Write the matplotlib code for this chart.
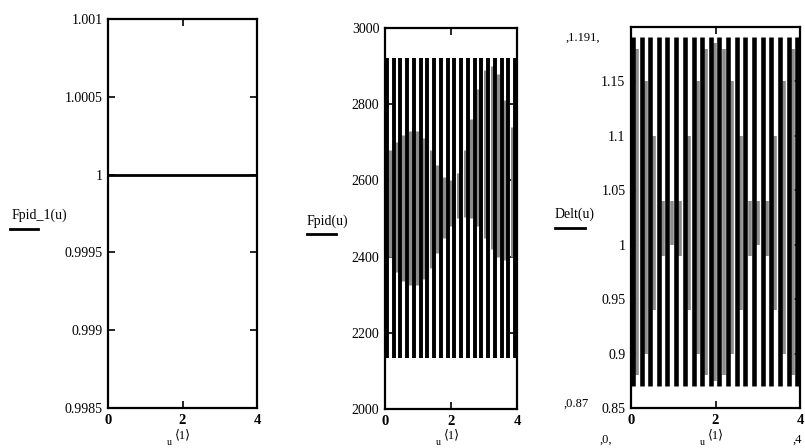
import matplotlib
matplotlib.use("Agg")
import matplotlib.pyplot as plt

plt.rcParams['font.family'] = ['Liberation Serif', 'DejaVu Serif']

W, H = 805, 448

# ---------------- data ----------------
x_ticks = [0, 2, 4]

# panel 1: constant Fpid_1(u)
p1_u = [0.0, 4.0]
p1_val = [1.0, 1.0]
p1_yticks = [0.9985, 0.999, 0.9995, 1.0, 1.0005, 1.001]
p1_ylabels = ["0.9985", "0.999", "0.9995", "1", "1.0005", "1.001"]

# panel 2: Fpid(u) oscillation (one dark stroke per cycle)
p2_t = [0.05, 0.26, 0.46, 0.67, 0.87, 1.08, 1.28, 1.49, 1.69, 1.90,
        2.10, 2.31, 2.51, 2.72, 2.92, 3.13, 3.33, 3.54, 3.74, 3.95]
p2_max = [2922] * 20
p2_min = [2135] * 20
# lighter inner strokes between the dark ones
p2_tg = [0.15, 0.36, 0.56, 0.77, 0.97, 1.18, 1.38, 1.59, 1.79, 2.00,
         2.20, 2.41, 2.61, 2.82, 3.02, 3.23, 3.43, 3.64, 3.84]
p2_ghi = [2680, 2700, 2720, 2730, 2730, 2710, 2680, 2640, 2610, 2600,
          2620, 2680, 2760, 2840, 2890, 2900, 2880, 2810, 2740]
p2_glo = [2400, 2360, 2335, 2325, 2325, 2340, 2370, 2410, 2450, 2480,
          2500, 2505, 2500, 2480, 2450, 2420, 2400, 2390, 2400]
p2_yticks = [2000, 2200, 2400, 2600, 2800, 3000]

# panel 3: Delt(u) oscillation
p3_t = [0.04, 0.25, 0.45, 0.66, 0.86, 1.07, 1.27, 1.48, 1.68, 1.89,
        2.09, 2.30, 2.50, 2.71, 2.91, 3.12, 3.32, 3.53, 3.73, 3.94]
p3_max = [1.191] * 20
p3_min = [0.87] * 20
p3_tg = [0.14, 0.35, 0.55, 0.76, 0.96, 1.17, 1.37, 1.58, 1.78, 1.99,
         2.19, 2.40, 2.60, 2.81, 3.01, 3.22, 3.42, 3.63, 3.83]
p3_ghi = [1.18, 1.15, 1.10, 1.04, 1.00, 1.04, 1.10, 1.15, 1.18, 1.185,
          1.18, 1.15, 1.10, 1.04, 1.00, 1.04, 1.10, 1.15, 1.18]
p3_glo = [0.88, 0.90, 0.94, 0.99, 1.04, 0.99, 0.94, 0.90, 0.88, 0.875,
          0.88, 0.90, 0.94, 0.99, 1.04, 0.99, 0.94, 0.90, 0.88]
p3_yticks = [0.85, 0.9, 0.95, 1.0, 1.05, 1.1, 1.15]
p3_ylabels = ["0.85", "0.9", "0.95", "1", "1.05", "1.1", "1.15"]

# ---------------- figure ----------------
fig = plt.figure(figsize=(W / 100, H / 100), dpi=100)
fig.patch.set_facecolor("white")


def px_axes(x0, y0, x1, y1):
    return fig.add_axes([x0 / W, 1 - y1 / H, (x1 - x0) / W, (y1 - y0) / H])


def ftext(x, y, s, **kw):
    kw.setdefault("fontsize", 10)
    fig.text(x / W, 1 - y / H, s, **kw)


def style(ax, ylim, yticks, ylabels=None):
    ax.set_xlim(0, 4)
    ax.set_ylim(*ylim)
    ax.set_xticks(x_ticks)
    ax.set_xticklabels([str(v) for v in x_ticks], fontsize=10.5, fontweight="bold")
    ax.set_yticks(yticks)
    if ylabels is None:
        ylabels = [str(v) for v in yticks]
    ax.set_yticklabels(ylabels, fontsize=10)
    ax.tick_params(direction="in", length=5, width=1.2, top=True, right=True,
                   pad=4, colors="black")
    ax.tick_params(axis="x", pad=4)
    for s in ax.spines.values():
        s.set_linewidth(1.6)
        s.set_color("black")
        s.set_zorder(5)


ax1 = px_axes(108, 19, 257, 408)
ax1.plot(p1_u, p1_val, color="black", lw=2.0, solid_capstyle="butt")
style(ax1, (0.9985, 1.001), p1_yticks, p1_ylabels)

ax2 = px_axes(385, 28, 517, 409)
ax2.vlines(p2_tg, p2_glo, p2_ghi, color="#8c8c8c", lw=2.2)
ax2.vlines(p2_t, p2_min, p2_max, color="black", lw=2.8)
style(ax2, (2000, 3000), p2_yticks)

ax3 = px_axes(631, 27, 800, 408)
ax3.vlines(p3_tg, p3_glo, p3_ghi, color="#8c8c8c", lw=2.6)
ax3.vlines(p3_t, p3_min, p3_max, color="black", lw=3.3)
style(ax3, (0.85, 1.2), p3_yticks, p3_ylabels)

# y-axis legend labels
for (tx, ty, s, lx0, lx1, ly) in [(12, 215, "Fpid_1(u)", 10, 38, 229),
                                  (307, 221, "Fpid(u)", 307, 336, 234),
                                  (555, 214, "Delt(u)", 555, 585, 228)]:
    ftext(tx, ty, s, ha="left", va="center", fontsize=10)
    fig.add_artist(plt.Line2D([lx0 / W, lx1 / W], [1 - ly / H, 1 - ly / H],
                              color="black", lw=2.0, transform=fig.transFigure))

# x-axis names u<1>
for cx in (183, 452, 716):
    ftext(cx, 435, "\u27e81\u27e9", ha="center", va="center", fontsize=9)
    ftext(cx - 14, 442, "u", ha="center", va="center", fontsize=7)

# Mathcad limit markers on panel 3
ftext(583, 38, ",1.191,", ha="center", va="center", fontsize=9)
ftext(576, 404, ",0.87", ha="center", va="center", fontsize=9)
ftext(606, 440, ",0,", ha="center", va="center", fontsize=9)
ftext(797, 440, ",4", ha="center", va="center", fontsize=9)

fig.savefig("out.png", dpi=100, facecolor="white")
